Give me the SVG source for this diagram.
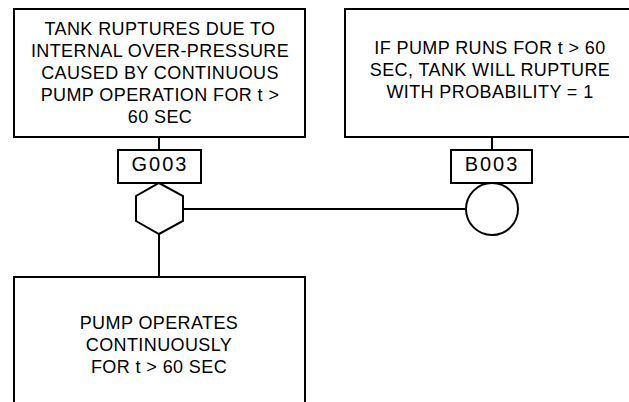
<svg xmlns="http://www.w3.org/2000/svg" width="629" height="402" viewBox="0 0 629 402">
<style>
.box{fill:#fff;stroke:#000;stroke-width:2}
.ln{fill:none;stroke:#000;stroke-width:2}
text{font-family:"Liberation Sans",Arial,sans-serif;font-size:18px;fill:#000;text-anchor:middle;letter-spacing:0.4px}
text.id{font-size:20px;letter-spacing:2px}
</style>
<rect width="629" height="402" fill="#fff"/>
<g id="connectors">
<line class="ln" x1="159" y1="137" x2="159" y2="150"/>
<line class="ln" x1="492" y1="137" x2="492" y2="150"/>
<line class="ln" x1="183" y1="209" x2="466" y2="209"/>
<line class="ln" x1="159" y1="234" x2="159" y2="277"/>
</g>
<g id="G003-event">
<rect class="box" x="14" y="9" width="291" height="128"/>
<text x="160" y="35">TANK RUPTURES DUE TO</text>
<text x="160" y="57">INTERNAL OVER-PRESSURE</text>
<text x="160" y="79">CAUSED BY CONTINUOUS</text>
<text x="160" y="101">PUMP OPERATION FOR t &gt;</text>
<text x="160" y="123">60 SEC</text>
</g>
<g id="G003-label">
<rect class="box" x="118" y="150" width="83" height="33"/>
<text class="id" x="160" y="171">G003</text>
</g>
<g id="G003-gate">
<polygon class="ln" points="159,183 183,196 183,221 159,234 136,221 136,196"/>
</g>
<g id="B003-event">
<rect class="box" x="345" y="9" width="292" height="128"/>
<text x="490" y="54">IF PUMP RUNS FOR t &gt; 60</text>
<text x="490" y="76">SEC, TANK WILL RUPTURE</text>
<text x="490" y="98">WITH PROBABILITY = 1</text>
</g>
<g id="B003-label">
<rect class="box" x="451" y="150" width="81" height="33"/>
<text class="id" x="492" y="171">B003</text>
</g>
<g id="B003-basic">
<circle class="ln" cx="492" cy="209" r="26"/>
</g>
<g id="pump-event">
<rect class="box" x="14" y="277" width="291" height="140"/>
<text x="159" y="329">PUMP OPERATES</text>
<text x="159" y="351">CONTINUOUSLY</text>
<text x="159" y="373">FOR t &gt; 60 SEC</text>
</g>
</svg>
